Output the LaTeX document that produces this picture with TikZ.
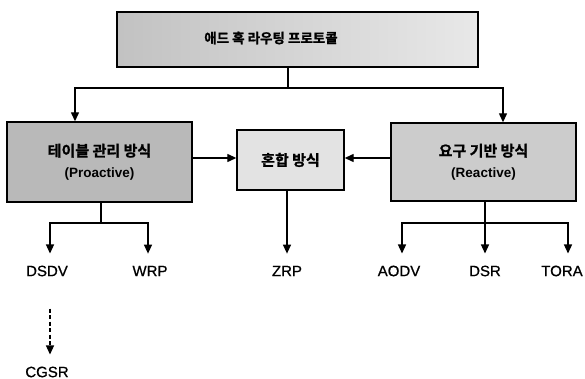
\documentclass[tikz,border=0pt]{standalone}
\usepackage{fontspec}
\setmainfont{Liberation Sans}
\newfontfamily\kr{Noto Sans CJK KR Bold}[FakeBold=1.2]
\newfontfamily\leaffont{Liberation Sans}[FakeBold=0.8]
\newcommand\myLatinLine{\rmfamily\bfseries\fontsize{13.5}{16}\selectfont}
\usetikzlibrary{arrows.meta,shadows}
\begin{document}
\begin{tikzpicture}[x=1pt,y=-1pt,
  box/.style={draw=black, line width=1.4pt, inner sep=0pt, align=center,
    drop shadow={shadow xshift=1.4pt, shadow yshift=-1.4pt, fill=black, opacity=1}},
  krtext/.style={font=\kr\fontsize{15}{21}\selectfont},
  lab/.style={font=\leaffont\fontsize{15}{18}\selectfont, inner xsep=0pt, inner ysep=12pt},
  wire/.style={line width=1.3pt},
  conn/.style={line width=1.3pt, -{Triangle[width=8pt,length=9pt]}}]
\useasboundingbox (0,0) rectangle (585,379);

% boxes
\node[box, minimum width=361pt, minimum height=55pt, left color=gray!48, right color=gray!18] (top) at (297.5,39.5) {};
\node[font=\kr\fontsize{13.5}{16}\selectfont] (toplabel) at (271,38) {애드 혹 라우팅 프로토콜};
\node[box, krtext, minimum width=185pt, minimum height=80pt, fill=gray!55] (pro) at (99.5,162)
  {테이블 관리 방식\\{\myLatinLine(Proactive)}};
\node[box, krtext, minimum width=107pt, minimum height=60pt, fill=gray!22] (mix) at (290.5,160) {혼합 방식};
\node[box, krtext, minimum width=185pt, minimum height=78pt, fill=gray!40] (rea) at (483.5,162)
  {요구 기반 방식\\{\myLatinLine(Reactive)}};

% leaf labels
\node[lab] (dsdv) at (47,271) {DSDV};
\node[lab] (wrp) at (150,271) {WRP};
\node[lab] (zrp) at (287,271) {ZRP};
\node[lab] (aodv) at (399,271) {AODV};
\node[lab] (dsr) at (485,271) {DSR};
\node[lab] (tora) at (562,271) {TORA};
\node[lab] (cgsr) at (47,372) {CGSR};

% top connectors
\coordinate (split) at (288,88);
\draw[wire] (split |- top.south) -- (split);
\draw[conn] (split) -| ([xshift=-24.5pt]pro.north);
\draw[conn] (split) -| ([xshift=19.5pt]rea.north);

% into mixed
\draw[conn] ([yshift=4pt]pro.east) -- (mix.west |- 0,158);
\draw[conn] ([yshift=4pt]rea.west) -- (mix.east |- 0,158);

% proactive leaves
\coordinate (lj) at (101,223);
\draw[wire] (lj |- pro.south) -- (lj);
\draw[conn] (lj) -| ([xshift=3pt]dsdv.north);
\draw[conn] (lj) -| ([xshift=-2pt]wrp.north);
\draw[conn, dash pattern=on 4pt off 2.5pt, shorten <=20pt] ([xshift=3pt]dsdv.south) -- ([xshift=3pt]cgsr.north);

% mixed leaf
\draw[conn] (zrp |- mix.south) -- (zrp.north);

% reactive leaves
\coordinate (rj) at (485,223);
\draw[wire] (rj |- rea.south) -- (rj);
\draw[conn] (rj) -| ([xshift=3pt]aodv.north);
\draw[conn] (rj) -- (dsr.north);
\draw[conn] (rj) -| ([xshift=6pt]tora.north);
\end{tikzpicture}
\end{document}
